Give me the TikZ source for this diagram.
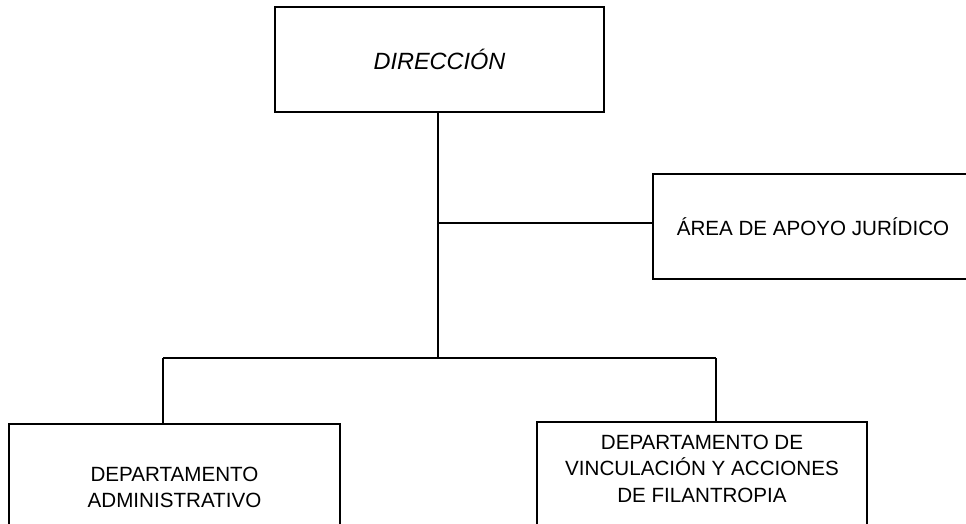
\documentclass[tikz,border=0pt]{standalone}
\usepackage{fontspec}
\setsansfont{Liberation Sans}
\begin{document}
\begin{tikzpicture}[x=1pt,y=-1pt,font=\sf\fontsize{20.6}{26.5}\selectfont,line width=1.8pt]
            \useasboundingbox (0,0) rectangle (966,524);
            \node[draw,minimum width=329pt,minimum height=105pt] (dir) at (439.5,59.5){\fontsize{23.5}{28}\selectfont\itshape DIRECCIÓN};
            \node[draw,minimum width=320pt,minimum height=105pt] (area) at (813,226.5){ÁREA DE APOYO JURÍDICO};
            \node[draw,anchor=north,align=center,minimum width=331pt,inner ysep=43pt,text depth=100pt] (admin) at (174.5,423){DEPARTAMENTO\\ADMINISTRATIVO};
            \node[draw,anchor=north,align=center,minimum width=330pt,inner ysep=13pt,text depth=100pt] (vinc) at (702,421){DEPARTAMENTO DE\\VINCULACIÓN Y ACCIONES\\DE FILANTROPIA};

            \coordinate (bus) at (438,358);
            \coordinate (tap) at (438,223);
            \coordinate (busL) at (163,358);
            \coordinate (busR) at (716,358);

            \draw (dir.south -| bus) -- (bus);
            \draw (tap) -- (tap -| area.west);
            \draw (busL) -- (busR);
            \draw (busL) -- (busL |- admin.north);
            \draw (busR) -- (busR |- vinc.north);
        \end{tikzpicture}
\end{document}
